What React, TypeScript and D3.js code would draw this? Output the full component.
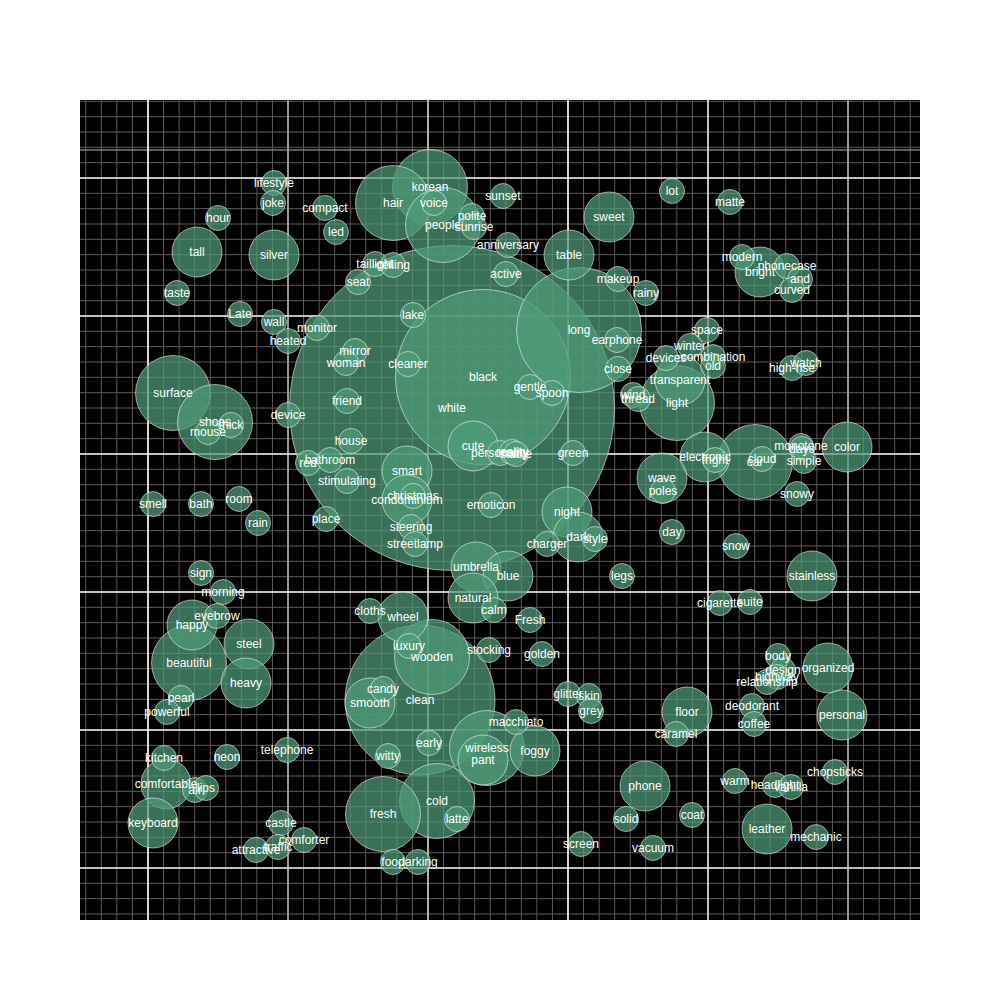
import React from "react";
import * as d3 from "d3";

const words = ["lifestyle","joke","compact","led","hour","tall","silver","taste","Late","wall","heated","monitor","mirror","woman","seat","surface","korean","hair","voice","people","polite","sunrise","sunset","anniversary","active","taillight","ceiling","table","sweet","makeup","rainy","lake","earphone","close","cleaner","gentle","spoon","lot","matte","modern","bright","phonecase","and","curved","space","winter","devices","combination","old","transparent","light","high-rise","watch","shoes","mouse","thick","device","friend","house","red","bathroom","stimulating","smell","bath","room","rain","place","sign","morning","eyebrow","happy","white","black","long","cute","personality","reality","stable","green","smart","christmas","condominium","emoticon","steering","streetlamp","night","dark","style","charger","umbrella","blue","natural","calm","legs","Fresh","cloths","wheel","wind","thread","electronic","fright","car","cloud","monotone","days","simple","color","snowy","wave","poles","day","snow","stainless","cigarette","suite","beautiful","steel","heavy","pearl","powerful","kitchen","comfortable","neon","telephone","air","lips","keyboard","castle","comforter","traffic","attractive","wooden","luxury","stocking","golden","candy","smooth","clean","glitter","skin","grey","macchiato","early","witty","wireless","pant","foggy","cold","fresh","latte","food","parking","screen","phone","solid","vacuum","body","design","highway","relationship","organized","personal","floor","caramel","deodorant","coffee","chopsticks","warm","headlight","vanilla","coat","leather","mechanic"];

const xValues = [19.4,19.3,24.5,25.6,13.8,11.7,19.4,9.7,16.0,19.4,20.8,23.7,27.5,26.6,27.8,9.3,35.0,31.3,35.4,36.3,39.2,39.4,42.3,42.8,42.6,29.5,31.3,48.9,52.9,53.8,56.6,33.3,53.7,53.8,32.8,45.0,47.2,59.2,65.0,66.2,68.0,70.7,72.0,71.2,62.7,61.0,58.6,63.3,63.3,60.0,59.7,71.2,72.6,13.5,12.8,15.1,20.8,26.7,27.1,22.8,25.0,26.7,7.3,12.1,15.9,17.8,24.6,12.1,14.3,13.7,11.2,37.2,40.3,49.9,39.3,42.0,43.2,43.6,49.3,32.7,33.3,32.7,41.1,33.1,33.5,48.7,49.8,51.5,46.7,39.6,42.8,39.3,41.4,54.2,45.0,29.0,32.3,55.3,55.8,62.5,63.5,67.5,68.2,72.1,72.2,72.4,76.7,71.7,58.2,58.3,59.2,65.6,73.2,64.0,67.0,10.9,16.9,16.6,10.1,8.7,8.4,8.6,14.7,20.7,11.5,12.6,7.3,20.1,22.4,19.8,17.6,35.2,32.9,40.9,46.2,30.3,29.0,34.0,48.8,50.9,51.1,43.6,34.9,30.8,40.7,40.3,45.5,35.7,30.3,37.7,31.3,33.8,50.1,56.5,54.6,57.3,69.8,70.3,69.7,68.7,74.8,76.2,60.7,59.6,67.2,67.4,75.5,65.5,69.5,71.1,61.2,68.7,73.6];

const yValues = [73.7,71.7,71.2,68.8,70.2,66.8,66.5,62.7,60.6,59.8,57.9,59.2,56.9,55.7,63.8,52.7,73.3,71.7,71.7,69.5,70.4,69.3,72.4,67.5,64.6,65.6,65.5,66.5,70.3,64.1,62.7,60.5,58.0,55.1,55.6,53.3,52.7,72.9,71.8,66.3,64.8,65.4,64.1,63.0,59.0,57.4,56.2,56.3,55.4,54.0,51.7,55.2,55.7,49.8,48.8,49.5,50.5,51.9,47.9,45.7,46.0,43.9,41.6,41.6,42.1,39.7,40.1,34.7,32.8,30.4,29.5,51.2,54.3,59.0,47.4,46.7,46.8,46.6,46.7,44.9,42.4,42.0,41.5,39.3,37.6,40.8,38.3,38.1,37.6,35.3,34.4,32.2,31.0,34.4,30.0,30.9,30.3,52.5,52.1,46.3,46.0,45.8,46.1,47.4,47.1,45.9,47.3,42.6,44.2,42.9,38.8,37.4,34.4,31.7,31.8,25.7,27.6,23.7,22.2,20.8,16.2,13.6,16.3,17.0,13.0,13.2,9.7,9.7,8.0,7.3,7.0,26.3,27.4,27.0,26.6,23.1,21.7,22.0,22.6,22.4,20.9,19.8,17.7,16.4,17.2,16.0,16.9,11.9,10.6,10.1,5.8,5.8,7.6,13.4,10.1,7.2,26.4,25.0,24.3,23.8,25.2,20.5,20.8,18.6,21.4,19.6,14.8,13.9,13.5,13.3,10.5,9.1,8.3];

const counts = [1,1,1,1,1,2,2,1,1,1,1,1,1,1,1,3,3,3,1,3,1,1,1,1,1,1,1,2,2,1,1,1,1,1,1,1,1,1,1,1,2,1,1,1,1,1,1,1,1,2,3,1,1,3,1,1,1,1,1,1,1,1,1,1,1,1,1,1,1,1,2,13,7,5,2,1,1,1,1,2,1,2,1,1,1,2,2,1,1,2,2,2,1,1,1,1,2,1,1,2,1,3,1,1,1,1,2,1,2,1,1,1,2,1,1,3,2,2,1,1,1,2,1,1,1,1,2,1,1,1,1,3,1,1,1,1,2,6,1,1,1,1,1,1,3,2,2,3,3,1,1,1,1,2,1,1,1,1,1,1,2,2,2,1,1,1,1,1,1,1,1,2,1];

const xMajorTicks = [6.8, 20.8, 34.8, 48.8, 62.8, 76.8];
const yMajorTicks = [74.2, 60.4, 46.6, 32.8, 19.0, 5.2];
const xMajorColors = ["#ffffff", "#9a9a9a", "#cfcfcf", "#ffffff", "#e8e8e8", "#9a9a9a"];
const yExtraTicks = [77.0];

const W = 1000, H = 1000;
const left = 80, right = 920, top = 100, bottom = 920;

export default function App() {
  const x = d3.scaleLinear().domain([0, 84]).range([left, right]);
  const y = d3.scaleLinear().domain([0, 82]).range([bottom, top]);
  const r = d3.scaleLinear().domain([0, 1]).range([0, 12.5]);

  const xStep = 14 / 9;
  const yStep = 13.8 / 9;
  const xMinor = d3.range(6.8 - xStep * 4, 84, xStep);
  const yMinor = d3.range(5.2 - yStep * 3, 82, yStep);

  const data = words.map((w, i) => ({ w, x: xValues[i], y: yValues[i], c: counts[i] }));
  const sorted = [...data].sort((a, b) => b.c - a.c);

  return (
    <svg width={W} height={H} style={{ display: "block", position: "absolute", left: 0, top: 0 }}>
      <rect x={0} y={0} width={W} height={H} fill="#ffffff" />
      <rect x={left} y={top} width={right - left} height={bottom - top} fill="#000000" />
      <g>
        {xMinor.map((v, i) => (
          <line key={"xm" + i} x1={x(v)} x2={x(v)} y1={top} y2={bottom} stroke="#5c5c5c" strokeWidth={1} />
        ))}
        {yMinor.map((v, i) => (
          <line key={"ym" + i} x1={left} x2={right} y1={y(v)} y2={y(v)} stroke="#5c5c5c" strokeWidth={1} />
        ))}
        {yExtraTicks.map((v, i) => (
          <line key={"ye" + i} x1={left} x2={right} y1={y(v)} y2={y(v)} stroke="#7a7a7a" strokeWidth={1.5} />
        ))}
        {xMajorTicks.map((v, i) => (
          <line key={"xM" + i} x1={x(v)} x2={x(v)} y1={top} y2={bottom} stroke={xMajorColors[i]} strokeWidth={xMajorColors[i] === "#9a9a9a" ? 2 : 1.6} />
        ))}
        {yMajorTicks.map((v, i) => (
          <line key={"yM" + i} x1={left} x2={right} y1={y(v)} y2={y(v)} stroke="#f0f0f0" strokeWidth={1.6} />
        ))}
      </g>
      <g>
        {sorted.map((d, i) => (
          <circle key={"c" + i} cx={x(d.x)} cy={y(d.y)} r={r(d.c)} fill="#4f9b78" fillOpacity={0.72} stroke="#ffffff" strokeOpacity={0.55} strokeWidth={1} />
        ))}
      </g>
      <g fontFamily="'Liberation Sans', Arial, Helvetica, sans-serif" fontSize={12} fill="#ffffff" textAnchor="middle">
        {sorted.map((d, i) => (
          <text key={"t" + i} x={x(d.x)} y={y(d.y)} dy="0.35em">{d.w}</text>
        ))}
      </g>
    </svg>
  );
}
